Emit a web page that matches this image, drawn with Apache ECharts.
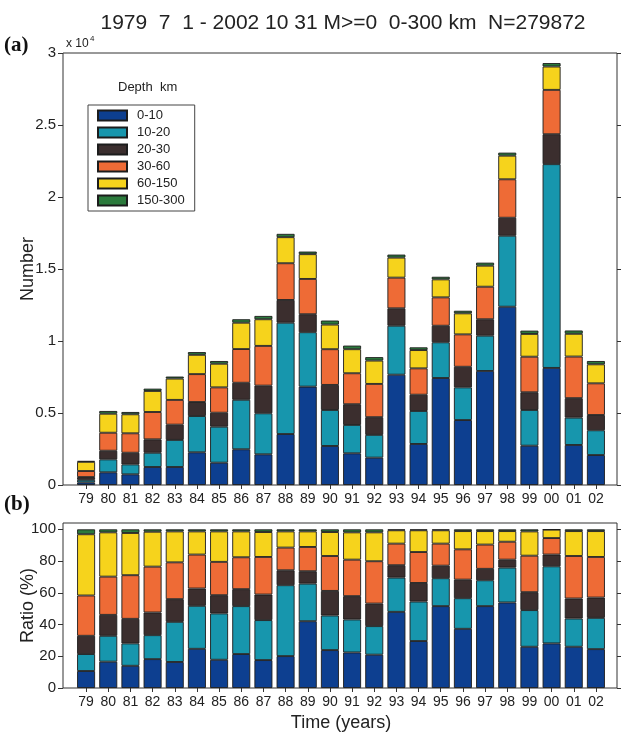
<!DOCTYPE html>
<html>
<head>
<meta charset="utf-8">
<script src="https://cdn.jsdelivr.net/npm/echarts@6/dist/echarts.min.js"></script>
<style>
  html, body { margin: 0; padding: 0; background: #fff; }
  #main-chart { width: 631px; height: 751px; }
</style>
</head>
<body>
<div id="main-chart"></div>
<script>
// years on x axis
const years = ['79', '80', '81', '82', '83', '84', '85', '86', '87', '88', '89', '90',
  '91', '92', '93', '94', '95', '96', '97', '98', '99', '00', '01', '02']
const depthNames = ['0-10', '10-20', '20-30', '30-60', '60-150', '150-300']
const depthColors = ['#0d3f90', '#1796ad', '#3b2e2e', '#ee6b36', '#f6d31c', '#2b7a3c']

// (a) number of events per depth range
const cnt0_10 = [180, 880, 740, 1250, 1250, 2270, 1550, 2480, 2130, 3540, 6830, 2710,
  2200, 1900, 7660, 2850, 7430, 4510, 7920, 12380, 2730, 8130, 2780, 2080]
const cnt10_20 = [180, 900, 690, 990, 1880, 2520, 2500, 3440, 2850, 7730, 3780, 2500,
  1970, 1580, 3400, 2290, 2480, 2270, 2450, 4930, 2480, 14150, 1900, 1720]
const cnt20_30 = [190, 600, 810, 930, 1060, 970, 970, 1180, 1920, 1580, 1250, 1740,
  1440, 1230, 1210, 1130, 1150, 1430, 1140, 1250, 1230, 2080, 1350, 1060]
const cnt30_60 = [420, 1250, 1350, 1900, 1720, 1940, 1760, 2340, 2760, 2550, 2450, 2480,
  2150, 2310, 2130, 1830, 1970, 2250, 2260, 2670, 2470, 3080, 2890, 2200]
const cnt60_150 = [640, 1320, 1320, 1460, 1480, 1340, 1640, 1830, 1850, 1810, 1720, 1710,
  1670, 1620, 1390, 1270, 1250, 1460, 1460, 1640, 1580, 1620, 1580, 1320]
const cnt150_300 = [60, 190, 160, 160, 140, 190, 190, 240, 230, 230, 180, 280,
  250, 240, 210, 190, 180, 180, 210, 210, 230, 240, 230, 230]

// (b) ratio (%) per depth range
const pct0_10 = [10.7, 16.6, 14.0, 18.2, 16.4, 24.7, 17.8, 21.4, 17.6, 20.1, 42.1, 23.9,
  22.4, 21.0, 48.0, 29.6, 51.6, 37.3, 51.6, 53.9, 26.0, 28.1, 26.0, 24.5]
const pct10_20 = [10.7, 16.3, 14.1, 15.1, 25.3, 27.1, 29.2, 30.2, 25.2, 44.7, 23.7, 21.8,
  20.8, 18.0, 21.6, 24.9, 17.6, 19.3, 16.3, 22.0, 23.1, 48.6, 17.8, 19.7]
const pct20_30 = [11.5, 13.2, 15.5, 14.3, 14.3, 10.9, 11.5, 10.7, 16.1, 9.4, 7.8, 15.5,
  14.7, 14.2, 7.8, 11.7, 7.9, 11.7, 7.2, 5.0, 11.3, 7.4, 12.6, 12.8]
const pct30_60 = [25.4, 24.1, 27.5, 28.9, 23.2, 21.4, 21.0, 20.1, 23.7, 14.3, 15.3, 22.0,
  23.0, 26.7, 13.6, 19.5, 13.9, 19.1, 15.3, 11.3, 23.0, 10.4, 26.8, 25.6]
const pct60_150 = [38.6, 27.9, 26.6, 22.0, 19.5, 14.6, 19.2, 16.3, 15.7, 10.2, 9.8, 15.1,
  17.2, 18.2, 8.4, 13.7, 8.4, 11.5, 8.5, 6.7, 15.3, 5.3, 15.7, 16.3]
const pct150_300 = [3.1, 1.9, 2.3, 1.5, 1.3, 1.3, 1.3, 1.3, 1.7, 1.3, 1.3, 1.7,
  1.9, 1.9, 0.6, 0.6, 0.6, 1.1, 1.1, 1.1, 1.3, 0.2, 1.1, 1.1]

const numberTicks = [0, 5000, 10000, 15000, 20000, 25000, 30000]
const ratioTicks = [0, 20, 40, 60, 80, 100]

const countData = [cnt0_10, cnt10_20, cnt20_30, cnt30_60, cnt60_150, cnt150_300]
const ratioData = [pct0_10, pct10_20, pct20_30, pct30_60, pct60_150, pct150_300]

const FONT = 'Liberation Sans'
const TXT = '#222'

const myChart = echarts.init(document.getElementById('main-chart'))

const barStyle = (i) => ({
  color: depthColors[i],
  borderColor: '#1c1c1c',
  borderWidth: 0.9
})

const series = []
depthNames.forEach((name, i) => {
  series.push({
    name: name,
    type: 'bar',
    stack: 'num',
    xAxisIndex: 0,
    yAxisIndex: 0,
    barWidth: 18,
    itemStyle: barStyle(i),
    data: countData[i]
  })
})
depthNames.forEach((name, i) => {
  series.push({
    name: name,
    type: 'bar',
    stack: 'ratio',
    xAxisIndex: 3,
    yAxisIndex: 3,
    barWidth: 18,
    itemStyle: barStyle(i),
    data: ratioData[i]
  })
})

// hidden axis used only for the frame grids
const hiddenAxis = (grid) => ({ type: 'value', gridIndex: grid, show: false })

const bottomCat = (grid, withName) => ({
  type: 'category',
  gridIndex: grid,
  data: years,
  position: 'bottom',
  axisLine: { show: false },
  axisTick: { show: false },
  axisLabel: { color: TXT, fontSize: 14, fontFamily: FONT, margin: 7 },
  name: withName ? 'Time (years)' : '',
  nameLocation: 'middle',
  nameGap: 26,
  nameMoveOverlap: false,
  nameTextStyle: { color: TXT, fontSize: 18, fontFamily: FONT }
})

const topCat = (grid) => ({
  type: 'category',
  gridIndex: grid,
  data: years,
  position: 'top',
  axisLine: { show: false },
  axisTick: { show: true, inside: true, alignWithLabel: true, length: 4, lineStyle: { color: '#333' } },
  axisLabel: { show: false }
})

const leftVal = (grid, max, ticks, name, fmt) => ({
  type: 'value',
  gridIndex: grid,
  position: 'left',
  offset: 12,
  min: 0,
  max: max,
  axisLine: { show: false },
  splitLine: { show: false },
  axisTick: { show: true, length: 5, customValues: ticks, lineStyle: { color: '#333' } },
  axisLabel: { color: TXT, fontSize: 15, fontFamily: FONT, margin: 7, customValues: ticks, formatter: fmt },
  name: name,
  nameLocation: 'middle',
  nameGap: 26,
  nameMoveOverlap: false,
  nameTextStyle: { color: TXT, fontSize: 18, fontFamily: FONT }
})

const rightVal = (grid, max, ticks) => ({
  type: 'value',
  gridIndex: grid,
  position: 'right',
  offset: 10,
  min: 0,
  max: max,
  axisLine: { show: false },
  splitLine: { show: false },
  axisTick: { show: true, length: 4, customValues: ticks, lineStyle: { color: '#333' } },
  axisLabel: { show: false }
})

const option = {
  animation: false,
  backgroundColor: '#fff',
  title: {
    text: '1979  7  1 - 2002 10 31 M>=0  0-300 km  N=279872',
    left: 338,
    top: 8,
    textAlign: 'center',
    textStyle: { color: TXT, fontSize: 21, fontWeight: 'normal', fontFamily: FONT }
  },
  legend: {
    data: depthNames,
    orient: 'vertical',
    left: 88,
    top: 105,
    icon: 'rect',
    itemWidth: 29,
    itemHeight: 10,
    itemGap: 4,
    padding: [4, 10, 4, 9],
    borderColor: '#444',
    borderWidth: 1,
    selectedMode: false,
    textStyle: { color: TXT, fontSize: 13, fontFamily: FONT, padding: [0, 0, 0, 5] }
  },
  graphic: [
    { type: 'text', left: 4, top: 35, style: { text: '(a)', fontSize: 21, fontWeight: 'bold', fontFamily: 'Liberation Serif', fill: '#111' } },
    { type: 'text', left: 4, top: 494, style: { text: '(b)', fontSize: 21, fontWeight: 'bold', fontFamily: 'Liberation Serif', fill: '#111' } },
    { type: 'text', left: 66, top: 38, style: { text: 'x 10', fontSize: 12, fontFamily: FONT, fill: TXT } },
    { type: 'text', left: 90, top: 35, style: { text: '4', fontSize: 8, fontFamily: FONT, fill: TXT } },
    { type: 'text', left: 118, top: 81, style: { text: 'Depth  km', fontSize: 13, fontFamily: FONT, fill: TXT } }
  ],
  grid: [
    { left: 75, right: 24, top: 53, height: 432 },
    { left: 63, right: 14, top: 53, height: 432, show: true, borderColor: '#333', borderWidth: 1 },
    { left: 75, right: 24, top: 523, height: 165 },
    { left: 63, right: 14, top: 523, height: 165, show: true, borderColor: '#333', borderWidth: 1 }
  ],
  xAxis: [
    bottomCat(0, false),
    topCat(0),
    hiddenAxis(1),
    bottomCat(2, true),
    topCat(2),
    hiddenAxis(3)
  ],
  yAxis: [
    leftVal(0, 30000, numberTicks, 'Number', (v) => String(v / 10000)),
    rightVal(0, 30000, numberTicks),
    hiddenAxis(1),
    leftVal(2, 104, ratioTicks, 'Ratio (%)', (v) => String(v)),
    rightVal(2, 104, ratioTicks),
    hiddenAxis(3)
  ],
  series: series
}

myChart.setOption(option)
</script>
</body>
</html>
